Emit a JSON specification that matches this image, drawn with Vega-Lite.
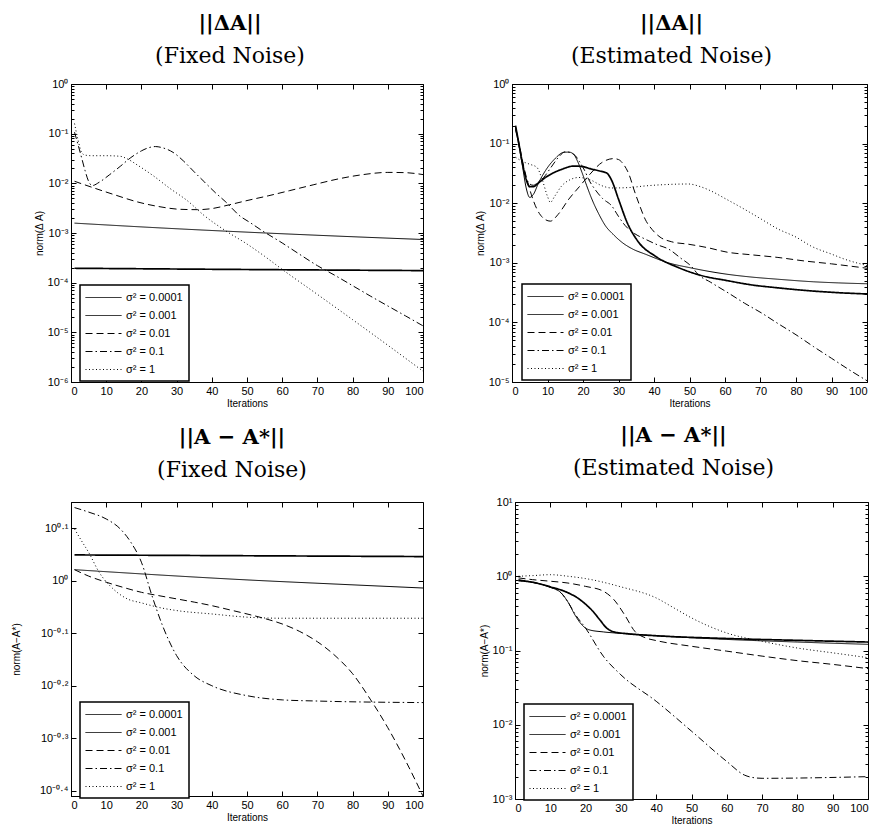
{
  "$schema": "https://vega.github.io/schema/vega-lite/v6.json",
  "padding": {"left": 10, "top": 12, "right": 5, "bottom": 5},
  "background": "white",
  "resolve": {"legend": {"strokeDash": "independent"}},
  "config": {
    "view": {"stroke": "black", "strokeWidth": 1},
    "font": "Liberation Sans",
    "title": {"font": "DejaVu Serif", "fontSize": 21, "fontWeight": "bold", "color": "black", "subtitleFont": "DejaVu Serif", "subtitleFontSize": 22, "subtitleColor": "black", "subtitlePadding": 12, "offset": 11},
    "axis": {"domainColor": "black", "tickColor": "black", "labelColor": "black", "labelFont": "Liberation Sans", "labelFontSize": 11, "titleFont": "Liberation Sans", "titleFontSize": 10, "titleFontWeight": "normal", "titleColor": "black", "grid": false, "tickSize": -5, "labelPadding": 8, "titlePadding": 3},
    "legend": {"orient": "none", "padding": 6, "strokeColor": "black", "fillColor": "white", "labelFont": "Liberation Sans", "labelFontSize": 11, "labelColor": "black", "symbolType": "M-3,0H3", "symbolSize": 144, "symbolStrokeWidth": 1, "symbolStrokeColor": "black", "symbolOffset": 11, "labelOffset": 16, "rowPadding": 6}
  },
  "datasets": {
    "p1": [
      {"s": "σ² = 0.0001", "x": 1, "y": 0.000195}, {"s": "σ² = 0.0001", "x": 50, "y": 0.000184}, {"s": "σ² = 0.0001", "x": 100, "y": 0.000175},
      {"s": "σ² = 0.001", "x": 1, "y": 0.00158}, {"s": "σ² = 0.001", "x": 25, "y": 0.00127}, {"s": "σ² = 0.001", "x": 50, "y": 0.00104}, {"s": "σ² = 0.001", "x": 75, "y": 0.00087}, {"s": "σ² = 0.001", "x": 100, "y": 0.00074},
      {"s": "σ² = 0.01", "x": 1, "y": 0.011}, {"s": "σ² = 0.01", "x": 6, "y": 0.0083}, {"s": "σ² = 0.01", "x": 12, "y": 0.006}, {"s": "σ² = 0.01", "x": 19, "y": 0.0042}, {"s": "σ² = 0.01", "x": 25, "y": 0.0034}, {"s": "σ² = 0.01", "x": 31, "y": 0.003}, {"s": "σ² = 0.01", "x": 36, "y": 0.00295}, {"s": "σ² = 0.01", "x": 40, "y": 0.0031}, {"s": "σ² = 0.01", "x": 45, "y": 0.0037}, {"s": "σ² = 0.01", "x": 50, "y": 0.0045}, {"s": "σ² = 0.01", "x": 56, "y": 0.0056}, {"s": "σ² = 0.01", "x": 62, "y": 0.0071}, {"s": "σ² = 0.01", "x": 69, "y": 0.0094}, {"s": "σ² = 0.01", "x": 76, "y": 0.0123}, {"s": "σ² = 0.01", "x": 83, "y": 0.015}, {"s": "σ² = 0.01", "x": 90, "y": 0.0166}, {"s": "σ² = 0.01", "x": 95, "y": 0.0164}, {"s": "σ² = 0.01", "x": 100, "y": 0.015},
      {"s": "σ² = 0.1", "x": 1, "y": 0.107}, {"s": "σ² = 0.1", "x": 2, "y": 0.06}, {"s": "σ² = 0.1", "x": 3, "y": 0.033}, {"s": "σ² = 0.1", "x": 4, "y": 0.018}, {"s": "σ² = 0.1", "x": 5, "y": 0.011}, {"s": "σ² = 0.1", "x": 6, "y": 0.009}, {"s": "σ² = 0.1", "x": 8, "y": 0.0105}, {"s": "σ² = 0.1", "x": 11, "y": 0.015}, {"s": "σ² = 0.1", "x": 14, "y": 0.022}, {"s": "σ² = 0.1", "x": 17, "y": 0.033}, {"s": "σ² = 0.1", "x": 20, "y": 0.045}, {"s": "σ² = 0.1", "x": 22, "y": 0.052}, {"s": "σ² = 0.1", "x": 24, "y": 0.055}, {"s": "σ² = 0.1", "x": 26, "y": 0.052}, {"s": "σ² = 0.1", "x": 29, "y": 0.042}, {"s": "σ² = 0.1", "x": 32, "y": 0.028}, {"s": "σ² = 0.1", "x": 35, "y": 0.017}, {"s": "σ² = 0.1", "x": 38, "y": 0.0105}, {"s": "σ² = 0.1", "x": 41, "y": 0.0065}, {"s": "σ² = 0.1", "x": 44, "y": 0.0042}, {"s": "σ² = 0.1", "x": 48, "y": 0.0022}, {"s": "σ² = 0.1", "x": 51, "y": 0.0016}, {"s": "σ² = 0.1", "x": 54, "y": 0.00115}, {"s": "σ² = 0.1", "x": 60, "y": 0.00063}, {"s": "σ² = 0.1", "x": 65, "y": 0.00037}, {"s": "σ² = 0.1", "x": 70, "y": 0.00022}, {"s": "σ² = 0.1", "x": 75, "y": 0.00014}, {"s": "σ² = 0.1", "x": 80, "y": 0.000087}, {"s": "σ² = 0.1", "x": 85, "y": 0.000054}, {"s": "σ² = 0.1", "x": 90, "y": 0.000034}, {"s": "σ² = 0.1", "x": 95, "y": 0.0000215}, {"s": "σ² = 0.1", "x": 100, "y": 0.0000135},
      {"s": "σ² = 1", "x": 1, "y": 0.16}, {"s": "σ² = 1", "x": 2, "y": 0.075}, {"s": "σ² = 1", "x": 3, "y": 0.042}, {"s": "σ² = 1", "x": 4, "y": 0.037}, {"s": "σ² = 1", "x": 6, "y": 0.036}, {"s": "σ² = 1", "x": 10, "y": 0.036}, {"s": "σ² = 1", "x": 14, "y": 0.035}, {"s": "σ² = 1", "x": 16, "y": 0.031}, {"s": "σ² = 1", "x": 19, "y": 0.023}, {"s": "σ² = 1", "x": 23.5, "y": 0.014}, {"s": "σ² = 1", "x": 28, "y": 0.008}, {"s": "σ² = 1", "x": 33, "y": 0.0045}, {"s": "σ² = 1", "x": 38, "y": 0.0022}, {"s": "σ² = 1", "x": 44, "y": 0.0011}, {"s": "σ² = 1", "x": 50, "y": 0.0006}, {"s": "σ² = 1", "x": 55, "y": 0.00034}, {"s": "σ² = 1", "x": 60, "y": 0.000185}, {"s": "σ² = 1", "x": 70, "y": 0.000058}, {"s": "σ² = 1", "x": 80, "y": 0.000018}, {"s": "σ² = 1", "x": 90, "y": 0.0000055}, {"s": "σ² = 1", "x": 100, "y": 0.00000165}
    ],
    "p2": [
      {"s": "σ² = 0.0001", "x": 1, "y": 0.2}, {"s": "σ² = 0.0001", "x": 2, "y": 0.095}, {"s": "σ² = 0.0001", "x": 3, "y": 0.045}, {"s": "σ² = 0.0001", "x": 4, "y": 0.025}, {"s": "σ² = 0.0001", "x": 5, "y": 0.019}, {"s": "σ² = 0.0001", "x": 6, "y": 0.019}, {"s": "σ² = 0.0001", "x": 7.5, "y": 0.022}, {"s": "σ² = 0.0001", "x": 9.4, "y": 0.027}, {"s": "σ² = 0.0001", "x": 12, "y": 0.033}, {"s": "σ² = 0.0001", "x": 14, "y": 0.037}, {"s": "σ² = 0.0001", "x": 17.4, "y": 0.042}, {"s": "σ² = 0.0001", "x": 20, "y": 0.041}, {"s": "σ² = 0.0001", "x": 22, "y": 0.038}, {"s": "σ² = 0.0001", "x": 24.4, "y": 0.035}, {"s": "σ² = 0.0001", "x": 26.7, "y": 0.032}, {"s": "σ² = 0.0001", "x": 28.1, "y": 0.024}, {"s": "σ² = 0.0001", "x": 30, "y": 0.0117}, {"s": "σ² = 0.0001", "x": 32.4, "y": 0.0048}, {"s": "σ² = 0.0001", "x": 35.7, "y": 0.0022}, {"s": "σ² = 0.0001", "x": 40.3, "y": 0.0013}, {"s": "σ² = 0.0001", "x": 46.9, "y": 0.00083}, {"s": "σ² = 0.0001", "x": 53, "y": 0.00062}, {"s": "σ² = 0.0001", "x": 60.8, "y": 0.0005}, {"s": "σ² = 0.0001", "x": 67, "y": 0.00043}, {"s": "σ² = 0.0001", "x": 74.9, "y": 0.00038}, {"s": "σ² = 0.0001", "x": 85, "y": 0.000335}, {"s": "σ² = 0.0001", "x": 92, "y": 0.000315}, {"s": "σ² = 0.0001", "x": 100, "y": 0.0003},
      {"s": "σ² = 0.001", "x": 1, "y": 0.17}, {"s": "σ² = 0.001", "x": 2, "y": 0.09}, {"s": "σ² = 0.001", "x": 3, "y": 0.04}, {"s": "σ² = 0.001", "x": 4, "y": 0.018}, {"s": "σ² = 0.001", "x": 5, "y": 0.0125}, {"s": "σ² = 0.001", "x": 6, "y": 0.014}, {"s": "σ² = 0.001", "x": 7.5, "y": 0.022}, {"s": "σ² = 0.001", "x": 9.4, "y": 0.035}, {"s": "σ² = 0.001", "x": 12, "y": 0.055}, {"s": "σ² = 0.001", "x": 14.5, "y": 0.071}, {"s": "σ² = 0.001", "x": 16, "y": 0.072}, {"s": "σ² = 0.001", "x": 17.4, "y": 0.066}, {"s": "σ² = 0.001", "x": 18.5, "y": 0.05}, {"s": "σ² = 0.001", "x": 19.7, "y": 0.033}, {"s": "σ² = 0.001", "x": 21, "y": 0.02}, {"s": "σ² = 0.001", "x": 22.5, "y": 0.0117}, {"s": "σ² = 0.001", "x": 24.5, "y": 0.0065}, {"s": "σ² = 0.001", "x": 26.3, "y": 0.0042}, {"s": "σ² = 0.001", "x": 28.5, "y": 0.003}, {"s": "σ² = 0.001", "x": 31, "y": 0.0022}, {"s": "σ² = 0.001", "x": 34, "y": 0.0017}, {"s": "σ² = 0.001", "x": 37.5, "y": 0.0014}, {"s": "σ² = 0.001", "x": 44, "y": 0.001}, {"s": "σ² = 0.001", "x": 50, "y": 0.00083}, {"s": "σ² = 0.001", "x": 60.8, "y": 0.00064}, {"s": "σ² = 0.001", "x": 67, "y": 0.00058}, {"s": "σ² = 0.001", "x": 74.9, "y": 0.00053}, {"s": "σ² = 0.001", "x": 85, "y": 0.00048}, {"s": "σ² = 0.001", "x": 92, "y": 0.00046}, {"s": "σ² = 0.001", "x": 100, "y": 0.000445},
      {"s": "σ² = 0.01", "x": 1, "y": 0.19}, {"s": "σ² = 0.01", "x": 2, "y": 0.1}, {"s": "σ² = 0.01", "x": 3, "y": 0.05}, {"s": "σ² = 0.01", "x": 4, "y": 0.028}, {"s": "σ² = 0.01", "x": 5, "y": 0.017}, {"s": "σ² = 0.01", "x": 7, "y": 0.008}, {"s": "σ² = 0.01", "x": 9, "y": 0.0055}, {"s": "σ² = 0.01", "x": 10.8, "y": 0.005}, {"s": "σ² = 0.01", "x": 13, "y": 0.0065}, {"s": "σ² = 0.01", "x": 16, "y": 0.0117}, {"s": "σ² = 0.01", "x": 19, "y": 0.019}, {"s": "σ² = 0.01", "x": 21.6, "y": 0.029}, {"s": "σ² = 0.01", "x": 25.3, "y": 0.048}, {"s": "σ² = 0.01", "x": 28.6, "y": 0.056}, {"s": "σ² = 0.01", "x": 30, "y": 0.054}, {"s": "σ² = 0.01", "x": 31.4, "y": 0.045}, {"s": "σ² = 0.01", "x": 33, "y": 0.03}, {"s": "σ² = 0.01", "x": 34.3, "y": 0.0173}, {"s": "σ² = 0.01", "x": 36, "y": 0.009}, {"s": "σ² = 0.01", "x": 37.5, "y": 0.0054}, {"s": "σ² = 0.01", "x": 39.5, "y": 0.0036}, {"s": "σ² = 0.01", "x": 41.7, "y": 0.0027}, {"s": "σ² = 0.01", "x": 45, "y": 0.00225}, {"s": "σ² = 0.01", "x": 49.7, "y": 0.00205}, {"s": "σ² = 0.01", "x": 55, "y": 0.0018}, {"s": "σ² = 0.01", "x": 60.8, "y": 0.0015}, {"s": "σ² = 0.01", "x": 67, "y": 0.00137}, {"s": "σ² = 0.01", "x": 74.9, "y": 0.00123}, {"s": "σ² = 0.01", "x": 82, "y": 0.00108}, {"s": "σ² = 0.01", "x": 90, "y": 0.00096}, {"s": "σ² = 0.01", "x": 100, "y": 0.00081},
      {"s": "σ² = 0.1", "x": 1, "y": 0.18}, {"s": "σ² = 0.1", "x": 2, "y": 0.09}, {"s": "σ² = 0.1", "x": 3, "y": 0.045}, {"s": "σ² = 0.1", "x": 4, "y": 0.027}, {"s": "σ² = 0.1", "x": 5, "y": 0.021}, {"s": "σ² = 0.1", "x": 6, "y": 0.02}, {"s": "σ² = 0.1", "x": 7.5, "y": 0.023}, {"s": "σ² = 0.1", "x": 8.9, "y": 0.027}, {"s": "σ² = 0.1", "x": 11, "y": 0.04}, {"s": "σ² = 0.1", "x": 13, "y": 0.058}, {"s": "σ² = 0.1", "x": 15, "y": 0.073}, {"s": "σ² = 0.1", "x": 16.5, "y": 0.07}, {"s": "σ² = 0.1", "x": 17.8, "y": 0.063}, {"s": "σ² = 0.1", "x": 19, "y": 0.05}, {"s": "σ² = 0.1", "x": 20.5, "y": 0.035}, {"s": "σ² = 0.1", "x": 21.6, "y": 0.025}, {"s": "σ² = 0.1", "x": 23.4, "y": 0.017}, {"s": "σ² = 0.1", "x": 25.5, "y": 0.012}, {"s": "σ² = 0.1", "x": 28.1, "y": 0.009}, {"s": "σ² = 0.1", "x": 30, "y": 0.006}, {"s": "σ² = 0.1", "x": 31.9, "y": 0.0042}, {"s": "σ² = 0.1", "x": 34.5, "y": 0.0031}, {"s": "σ² = 0.1", "x": 37.5, "y": 0.0025}, {"s": "σ² = 0.1", "x": 41, "y": 0.002}, {"s": "σ² = 0.1", "x": 44.1, "y": 0.0017}, {"s": "σ² = 0.1", "x": 47.5, "y": 0.0012}, {"s": "σ² = 0.1", "x": 50.7, "y": 0.00085}, {"s": "σ² = 0.1", "x": 52.3, "y": 0.00065}, {"s": "σ² = 0.1", "x": 56, "y": 0.00047}, {"s": "σ² = 0.1", "x": 61, "y": 0.00031}, {"s": "σ² = 0.1", "x": 65.5, "y": 0.00021}, {"s": "σ² = 0.1", "x": 70.2, "y": 0.000145}, {"s": "σ² = 0.1", "x": 75, "y": 0.000095}, {"s": "σ² = 0.1", "x": 80, "y": 0.000062}, {"s": "σ² = 0.1", "x": 85, "y": 0.000039}, {"s": "σ² = 0.1", "x": 90, "y": 0.000025}, {"s": "σ² = 0.1", "x": 95, "y": 0.000016}, {"s": "σ² = 0.1", "x": 100, "y": 0.0000105},
      {"s": "σ² = 1", "x": 1, "y": 0.059}, {"s": "σ² = 1", "x": 3, "y": 0.05}, {"s": "σ² = 1", "x": 5, "y": 0.045}, {"s": "σ² = 1", "x": 7, "y": 0.04}, {"s": "σ² = 1", "x": 8.5, "y": 0.025}, {"s": "σ² = 1", "x": 10, "y": 0.013}, {"s": "σ² = 1", "x": 10.8, "y": 0.0103}, {"s": "σ² = 1", "x": 12, "y": 0.013}, {"s": "σ² = 1", "x": 14, "y": 0.0195}, {"s": "σ² = 1", "x": 16.5, "y": 0.025}, {"s": "σ² = 1", "x": 18.8, "y": 0.027}, {"s": "σ² = 1", "x": 22.5, "y": 0.024}, {"s": "σ² = 1", "x": 25, "y": 0.02}, {"s": "σ² = 1", "x": 28.1, "y": 0.018}, {"s": "σ² = 1", "x": 33, "y": 0.0183}, {"s": "σ² = 1", "x": 37.5, "y": 0.0195}, {"s": "σ² = 1", "x": 43, "y": 0.0205}, {"s": "σ² = 1", "x": 49.7, "y": 0.021}, {"s": "σ² = 1", "x": 53, "y": 0.019}, {"s": "σ² = 1", "x": 56.1, "y": 0.016}, {"s": "σ² = 1", "x": 60, "y": 0.012}, {"s": "σ² = 1", "x": 65.5, "y": 0.0079}, {"s": "σ² = 1", "x": 70, "y": 0.0055}, {"s": "σ² = 1", "x": 74.9, "y": 0.0037}, {"s": "σ² = 1", "x": 80, "y": 0.0027}, {"s": "σ² = 1", "x": 84.3, "y": 0.0019}, {"s": "σ² = 1", "x": 90, "y": 0.0014}, {"s": "σ² = 1", "x": 93.7, "y": 0.00115}, {"s": "σ² = 1", "x": 100, "y": 0.0009}
    ],
    "p3": [
      {"s": "σ² = 0.0001", "x": 1, "y": 1.119}, {"s": "σ² = 0.0001", "x": 50, "y": 1.115}, {"s": "σ² = 0.0001", "x": 100, "y": 1.111},
      {"s": "σ² = 0.001", "x": 1, "y": 1.049}, {"s": "σ² = 0.001", "x": 25, "y": 1.025}, {"s": "σ² = 0.001", "x": 50, "y": 1.003}, {"s": "σ² = 0.001", "x": 75, "y": 0.985}, {"s": "σ² = 0.001", "x": 100, "y": 0.968},
      {"s": "σ² = 0.01", "x": 1, "y": 1.049}, {"s": "σ² = 0.01", "x": 5, "y": 1.02}, {"s": "σ² = 0.01", "x": 10, "y": 0.993}, {"s": "σ² = 0.01", "x": 15, "y": 0.97}, {"s": "σ² = 0.01", "x": 20, "y": 0.95}, {"s": "σ² = 0.01", "x": 25, "y": 0.936}, {"s": "σ² = 0.01", "x": 30, "y": 0.923}, {"s": "σ² = 0.01", "x": 35, "y": 0.91}, {"s": "σ² = 0.01", "x": 40, "y": 0.896}, {"s": "σ² = 0.01", "x": 45, "y": 0.88}, {"s": "σ² = 0.01", "x": 50, "y": 0.864}, {"s": "σ² = 0.01", "x": 55, "y": 0.847}, {"s": "σ² = 0.01", "x": 60, "y": 0.827}, {"s": "σ² = 0.01", "x": 65, "y": 0.8}, {"s": "σ² = 0.01", "x": 70, "y": 0.765}, {"s": "σ² = 0.01", "x": 75, "y": 0.72}, {"s": "σ² = 0.01", "x": 80, "y": 0.665}, {"s": "σ² = 0.01", "x": 85, "y": 0.595}, {"s": "σ² = 0.01", "x": 90, "y": 0.525}, {"s": "σ² = 0.01", "x": 95, "y": 0.455}, {"s": "σ² = 0.01", "x": 100, "y": 0.389},
      {"s": "σ² = 0.1", "x": 1, "y": 1.377}, {"s": "σ² = 0.1", "x": 5, "y": 1.35}, {"s": "σ² = 0.1", "x": 10, "y": 1.31}, {"s": "σ² = 0.1", "x": 14, "y": 1.254}, {"s": "σ² = 0.1", "x": 17, "y": 1.183}, {"s": "σ² = 0.1", "x": 20, "y": 1.084}, {"s": "σ² = 0.1", "x": 23, "y": 0.936}, {"s": "σ² = 0.1", "x": 26, "y": 0.821}, {"s": "σ² = 0.1", "x": 30, "y": 0.72}, {"s": "σ² = 0.1", "x": 35, "y": 0.659}, {"s": "σ² = 0.1", "x": 40, "y": 0.631}, {"s": "σ² = 0.1", "x": 50, "y": 0.604}, {"s": "σ² = 0.1", "x": 60, "y": 0.593}, {"s": "σ² = 0.1", "x": 70, "y": 0.59}, {"s": "σ² = 0.1", "x": 100, "y": 0.586},
      {"s": "σ² = 1", "x": 1, "y": 1.254}, {"s": "σ² = 1", "x": 3, "y": 1.19}, {"s": "σ² = 1", "x": 5, "y": 1.132}, {"s": "σ² = 1", "x": 8, "y": 1.037}, {"s": "σ² = 1", "x": 12, "y": 0.964}, {"s": "σ² = 1", "x": 16, "y": 0.923}, {"s": "σ² = 1", "x": 20, "y": 0.907}, {"s": "σ² = 1", "x": 25, "y": 0.889}, {"s": "σ² = 1", "x": 30, "y": 0.877}, {"s": "σ² = 1", "x": 40, "y": 0.864}, {"s": "σ² = 1", "x": 50, "y": 0.852}, {"s": "σ² = 1", "x": 60, "y": 0.848}, {"s": "σ² = 1", "x": 100, "y": 0.848}
    ],
    "p4": [
      {"s": "σ² = 0.0001", "x": 1, "y": 0.875}, {"s": "σ² = 0.0001", "x": 5, "y": 0.83}, {"s": "σ² = 0.0001", "x": 10, "y": 0.72}, {"s": "σ² = 0.0001", "x": 15, "y": 0.6}, {"s": "σ² = 0.0001", "x": 18, "y": 0.5}, {"s": "σ² = 0.0001", "x": 20, "y": 0.42}, {"s": "σ² = 0.0001", "x": 22, "y": 0.34}, {"s": "σ² = 0.0001", "x": 24, "y": 0.26}, {"s": "σ² = 0.0001", "x": 26, "y": 0.2}, {"s": "σ² = 0.0001", "x": 28, "y": 0.178}, {"s": "σ² = 0.0001", "x": 32, "y": 0.168}, {"s": "σ² = 0.0001", "x": 40, "y": 0.158}, {"s": "σ² = 0.0001", "x": 60, "y": 0.145}, {"s": "σ² = 0.0001", "x": 80, "y": 0.137}, {"s": "σ² = 0.0001", "x": 100, "y": 0.13},
      {"s": "σ² = 0.001", "x": 1, "y": 0.875}, {"s": "σ² = 0.001", "x": 5, "y": 0.83}, {"s": "σ² = 0.001", "x": 10, "y": 0.71}, {"s": "σ² = 0.001", "x": 13, "y": 0.6}, {"s": "σ² = 0.001", "x": 15, "y": 0.45}, {"s": "σ² = 0.001", "x": 17, "y": 0.3}, {"s": "σ² = 0.001", "x": 19, "y": 0.22}, {"s": "σ² = 0.001", "x": 21, "y": 0.19}, {"s": "σ² = 0.001", "x": 25, "y": 0.178}, {"s": "σ² = 0.001", "x": 30, "y": 0.17}, {"s": "σ² = 0.001", "x": 40, "y": 0.158}, {"s": "σ² = 0.001", "x": 60, "y": 0.141}, {"s": "σ² = 0.001", "x": 80, "y": 0.13}, {"s": "σ² = 0.001", "x": 100, "y": 0.121},
      {"s": "σ² = 0.01", "x": 1, "y": 0.95}, {"s": "σ² = 0.01", "x": 5, "y": 0.9}, {"s": "σ² = 0.01", "x": 10, "y": 0.857}, {"s": "σ² = 0.01", "x": 15, "y": 0.81}, {"s": "σ² = 0.01", "x": 20, "y": 0.73}, {"s": "σ² = 0.01", "x": 25, "y": 0.63}, {"s": "σ² = 0.01", "x": 28, "y": 0.485}, {"s": "σ² = 0.01", "x": 31, "y": 0.305}, {"s": "σ² = 0.01", "x": 34, "y": 0.18}, {"s": "σ² = 0.01", "x": 37, "y": 0.148}, {"s": "σ² = 0.01", "x": 40, "y": 0.136}, {"s": "σ² = 0.01", "x": 50, "y": 0.114}, {"s": "σ² = 0.01", "x": 60, "y": 0.098}, {"s": "σ² = 0.01", "x": 70, "y": 0.084}, {"s": "σ² = 0.01", "x": 80, "y": 0.073}, {"s": "σ² = 0.01", "x": 90, "y": 0.065}, {"s": "σ² = 0.01", "x": 100, "y": 0.057},
      {"s": "σ² = 0.1", "x": 1, "y": 0.9}, {"s": "σ² = 0.1", "x": 5, "y": 0.83}, {"s": "σ² = 0.1", "x": 10, "y": 0.71}, {"s": "σ² = 0.1", "x": 13, "y": 0.6}, {"s": "σ² = 0.1", "x": 15, "y": 0.45}, {"s": "σ² = 0.1", "x": 17, "y": 0.31}, {"s": "σ² = 0.1", "x": 20, "y": 0.2}, {"s": "σ² = 0.1", "x": 25, "y": 0.084}, {"s": "σ² = 0.1", "x": 30, "y": 0.047}, {"s": "σ² = 0.1", "x": 40, "y": 0.0207}, {"s": "σ² = 0.1", "x": 50, "y": 0.0082}, {"s": "σ² = 0.1", "x": 60, "y": 0.0032}, {"s": "σ² = 0.1", "x": 65, "y": 0.0021}, {"s": "σ² = 0.1", "x": 67, "y": 0.00196}, {"s": "σ² = 0.1", "x": 70, "y": 0.0019}, {"s": "σ² = 0.1", "x": 100, "y": 0.002},
      {"s": "σ² = 1", "x": 1, "y": 1.0}, {"s": "σ² = 1", "x": 5, "y": 1.02}, {"s": "σ² = 1", "x": 10, "y": 1.05}, {"s": "σ² = 1", "x": 15, "y": 1.0}, {"s": "σ² = 1", "x": 20, "y": 0.93}, {"s": "σ² = 1", "x": 30, "y": 0.72}, {"s": "σ² = 1", "x": 40, "y": 0.51}, {"s": "σ² = 1", "x": 45, "y": 0.375}, {"s": "σ² = 1", "x": 50, "y": 0.275}, {"s": "σ² = 1", "x": 55, "y": 0.212}, {"s": "σ² = 1", "x": 60, "y": 0.172}, {"s": "σ² = 1", "x": 70, "y": 0.133}, {"s": "σ² = 1", "x": 80, "y": 0.108}, {"s": "σ² = 1", "x": 90, "y": 0.093}, {"s": "σ² = 1", "x": 100, "y": 0.08}
    ]
  },
  "spacing": 15,
  "vconcat": [
    {
      "spacing": 47,
      "resolve": {"legend": {"strokeDash": "independent"}},
      "hconcat": [
        {
          "width": 352, "height": 298,
          "title": {"text": "||ΔA||", "subtitle": "(Fixed Noise)", "dx": -17},
          "data": {"name": "p1"},
          "resolve": {"axis": {"x": "independent", "y": "independent"}},
          "layer": [
            {
              "mark": {"type": "line", "color": "black", "clip": true, "interpolate": "monotone"},
              "encoding": {
                "x": {"field": "x", "type": "quantitative", "scale": {"domain": [0, 100], "nice": false}, "axis": {"orient": "bottom", "values": [0,10,20,30,40,50,60,70,80,90,100], "title": "Iterations", "titlePadding": 2}},
                "y": {"field": "y", "type": "quantitative", "scale": {"type": "log", "domain": [0.000001, 1], "nice": false}, "axis": {"orient": "left", "title": "norm(Δ A)", "values": [0.000001,0.000002,0.000003,0.000004,0.000005,0.000006,0.000007,0.000008,0.000009,0.00001,0.00002,0.00003,0.00004,0.00005,0.00006,0.00007,0.00008,0.00009,0.0001,0.0002,0.0003,0.0004,0.0005,0.0006,0.0007,0.0008,0.0009,0.001,0.002,0.003,0.004,0.005,0.006,0.007,0.008,0.009,0.01,0.02,0.03,0.04,0.05,0.06,0.07,0.08,0.09,0.1,0.2,0.3,0.4,0.5,0.6,0.7,0.8,0.9,1], "labelExpr": "abs(log(datum.value)/LN10 - round(log(datum.value)/LN10)) < 0.01 ? '10' + (round(log(datum.value)/LN10) < 0 ? '⁻' : '') + ['⁰','¹','²','³','⁴','⁵','⁶'][abs(round(log(datum.value)/LN10))] : ''", "tickSize": {"condition": {"test": "abs(log(datum.value)/LN10 - round(log(datum.value)/LN10)) < 0.01", "value": -5}, "value": -3}}},
                "strokeDash": {"field": "s", "type": "nominal", "scale": {"domain": ["σ² = 0.0001", "σ² = 0.001", "σ² = 0.01", "σ² = 0.1", "σ² = 1"], "range": [[1, 0], [1, 0], [7, 4], [7, 3, 1.5, 3], [1, 2.5]]}, "legend": {"title": null, "legendX": 9, "legendY": 201, "encode": {"legend": {"update": {"strokeWidth": {"value": 1.5}}}}}},
                "strokeWidth": {"condition": {"test": "datum.s === 'σ² = 0.0001'", "value": 1.7}, "value": 1}
              }
            },
            {
              "mark": {"type": "point", "opacity": 0},
              "encoding": {
                "x": {"field": "x", "type": "quantitative", "scale": {"domain": [0, 100], "nice": false}, "axis": {"orient": "top", "values": [0,10,20,30,40,50,60,70,80,90,100], "labels": false, "title": null, "domain": false}},
                "y": {"field": "y", "type": "quantitative", "scale": {"type": "log", "domain": [0.000001, 1], "nice": false}, "axis": {"orient": "right", "labels": false, "title": null, "domain": false, "values": [0.000001,0.000002,0.000003,0.000004,0.000005,0.000006,0.000007,0.000008,0.000009,0.00001,0.00002,0.00003,0.00004,0.00005,0.00006,0.00007,0.00008,0.00009,0.0001,0.0002,0.0003,0.0004,0.0005,0.0006,0.0007,0.0008,0.0009,0.001,0.002,0.003,0.004,0.005,0.006,0.007,0.008,0.009,0.01,0.02,0.03,0.04,0.05,0.06,0.07,0.08,0.09,0.1,0.2,0.3,0.4,0.5,0.6,0.7,0.8,0.9,1], "tickSize": {"condition": {"test": "abs(log(datum.value)/LN10 - round(log(datum.value)/LN10)) < 0.01", "value": -5}, "value": -3}}}
              }
            }
          ]
        },
        {
          "width": 355, "height": 298,
          "title": {"text": "||ΔA||", "subtitle": "(Estimated Noise)", "dx": -18},
          "data": {"name": "p2"},
          "resolve": {"axis": {"x": "independent", "y": "independent"}},
          "layer": [
            {
              "mark": {"type": "line", "color": "black", "clip": true, "interpolate": "monotone"},
              "encoding": {
                "x": {"field": "x", "type": "quantitative", "scale": {"domain": [0, 100], "nice": false}, "axis": {"orient": "bottom", "values": [0,10,20,30,40,50,60,70,80,90,100], "title": "Iterations", "titlePadding": 2}},
                "y": {"field": "y", "type": "quantitative", "scale": {"type": "log", "domain": [0.00001, 1], "nice": false}, "axis": {"orient": "left", "title": "norm(Δ A)", "values": [0.00001,0.00002,0.00003,0.00004,0.00005,0.00006,0.00007,0.00008,0.00009,0.0001,0.0002,0.0003,0.0004,0.0005,0.0006,0.0007,0.0008,0.0009,0.001,0.002,0.003,0.004,0.005,0.006,0.007,0.008,0.009,0.01,0.02,0.03,0.04,0.05,0.06,0.07,0.08,0.09,0.1,0.2,0.3,0.4,0.5,0.6,0.7,0.8,0.9,1], "labelExpr": "abs(log(datum.value)/LN10 - round(log(datum.value)/LN10)) < 0.01 ? '10' + (round(log(datum.value)/LN10) < 0 ? '⁻' : '') + ['⁰','¹','²','³','⁴','⁵','⁶'][abs(round(log(datum.value)/LN10))] : ''", "tickSize": {"condition": {"test": "abs(log(datum.value)/LN10 - round(log(datum.value)/LN10)) < 0.01", "value": -5}, "value": -3}}},
                "strokeDash": {"field": "s", "type": "nominal", "scale": {"domain": ["σ² = 0.0001", "σ² = 0.001", "σ² = 0.01", "σ² = 0.1", "σ² = 1"], "range": [[1, 0], [1, 0], [7, 4], [7, 3, 1.5, 3], [1, 2.5]]}, "legend": {"title": null, "legendX": 10, "legendY": 200, "encode": {"legend": {"update": {"strokeWidth": {"value": 1.5}}}}}},
                "strokeWidth": {"condition": {"test": "datum.s === 'σ² = 0.0001'", "value": 1.7}, "value": 1}
              }
            },
            {
              "mark": {"type": "point", "opacity": 0},
              "encoding": {
                "x": {"field": "x", "type": "quantitative", "scale": {"domain": [0, 100], "nice": false}, "axis": {"orient": "top", "values": [0,10,20,30,40,50,60,70,80,90,100], "labels": false, "title": null, "domain": false}},
                "y": {"field": "y", "type": "quantitative", "scale": {"type": "log", "domain": [0.00001, 1], "nice": false}, "axis": {"orient": "right", "labels": false, "title": null, "domain": false, "values": [0.00001,0.00002,0.00003,0.00004,0.00005,0.00006,0.00007,0.00008,0.00009,0.0001,0.0002,0.0003,0.0004,0.0005,0.0006,0.0007,0.0008,0.0009,0.001,0.002,0.003,0.004,0.005,0.006,0.007,0.008,0.009,0.01,0.02,0.03,0.04,0.05,0.06,0.07,0.08,0.09,0.1,0.2,0.3,0.4,0.5,0.6,0.7,0.8,0.9,1], "tickSize": {"condition": {"test": "abs(log(datum.value)/LN10 - round(log(datum.value)/LN10)) < 0.01", "value": -5}, "value": -3}}}
              }
            }
          ]
        }
      ]
    },
    {
      "spacing": 51,
      "resolve": {"legend": {"strokeDash": "independent"}},
      "hconcat": [
        {
          "width": 352, "height": 294,
          "title": {"text": "||A − A*||", "subtitle": "(Fixed Noise)", "dx": -15, "offset": 21},
          "data": {"name": "p3"},
          "resolve": {"axis": {"x": "independent", "y": "independent"}},
          "layer": [
            {
              "mark": {"type": "line", "color": "black", "clip": true, "interpolate": "monotone"},
              "encoding": {
                "x": {"field": "x", "type": "quantitative", "scale": {"domain": [0, 100], "nice": false}, "axis": {"orient": "bottom", "values": [0,10,20,30,40,50,60,70,80,90,100], "title": "Iterations", "titlePadding": 2}},
                "y": {"field": "y", "type": "quantitative", "scale": {"type": "log", "domain": [0.3892, 1.411], "nice": false}, "axis": {"orient": "left", "title": "norm(A−A*)", "titlePadding": 18, "values": [0.398107, 0.501187, 0.630957, 0.794328, 1, 1.258925], "labelExpr": "round(log(datum.value)/LN10*10) == 0 ? '10⁰' : '10' + (round(log(datum.value)/LN10*10) < 0 ? '⁻' : '') + '⁰·' + ['⁰','¹','²','³','⁴'][abs(round(log(datum.value)/LN10*10))]"}},
                "strokeDash": {"field": "s", "type": "nominal", "scale": {"domain": ["σ² = 0.0001", "σ² = 0.001", "σ² = 0.01", "σ² = 0.1", "σ² = 1"], "range": [[1, 0], [1, 0], [7, 4], [7, 3, 1.5, 3], [1, 2.5]]}, "legend": {"title": null, "legendX": 9, "legendY": 200, "encode": {"legend": {"update": {"strokeWidth": {"value": 1.5}}}}}},
                "strokeWidth": {"condition": {"test": "datum.s === 'σ² = 0.0001'", "value": 1.7}, "value": 1}
              }
            },
            {
              "mark": {"type": "point", "opacity": 0},
              "encoding": {
                "x": {"field": "x", "type": "quantitative", "scale": {"domain": [0, 100], "nice": false}, "axis": {"orient": "top", "values": [0,10,20,30,40,50,60,70,80,90,100], "labels": false, "title": null, "domain": false}},
                "y": {"field": "y", "type": "quantitative", "scale": {"type": "log", "domain": [0.3892, 1.411], "nice": false}, "axis": {"orient": "right", "labels": false, "title": null, "domain": false, "values": [0.398107, 0.501187, 0.630957, 0.794328, 1, 1.258925]}}
              }
            }
          ]
        },
        {
          "width": 353, "height": 297,
          "title": {"text": "||A − A*||", "subtitle": "(Estimated Noise)", "dx": -18, "offset": 17},
          "data": {"name": "p4"},
          "resolve": {"axis": {"x": "independent", "y": "independent"}},
          "layer": [
            {
              "mark": {"type": "line", "color": "black", "clip": true, "interpolate": "monotone"},
              "encoding": {
                "x": {"field": "x", "type": "quantitative", "scale": {"domain": [0, 100], "nice": false}, "axis": {"orient": "bottom", "values": [0,10,20,30,40,50,60,70,80,90,100], "title": "Iterations", "titlePadding": 2}},
                "y": {"field": "y", "type": "quantitative", "scale": {"type": "log", "domain": [0.001, 10], "nice": false}, "axis": {"orient": "left", "title": "norm(A−A*)", "values": [0.001,0.002,0.003,0.004,0.005,0.006,0.007,0.008,0.009,0.01,0.02,0.03,0.04,0.05,0.06,0.07,0.08,0.09,0.1,0.2,0.3,0.4,0.5,0.6,0.7,0.8,0.9,1,2,3,4,5,6,7,8,9,10], "labelExpr": "abs(log(datum.value)/LN10 - round(log(datum.value)/LN10)) < 0.01 ? '10' + (round(log(datum.value)/LN10) < 0 ? '⁻' : '') + ['⁰','¹','²','³','⁴','⁵','⁶'][abs(round(log(datum.value)/LN10))] : ''", "tickSize": {"condition": {"test": "abs(log(datum.value)/LN10 - round(log(datum.value)/LN10)) < 0.01", "value": -5}, "value": -3}}},
                "strokeDash": {"field": "s", "type": "nominal", "scale": {"domain": ["σ² = 0.0001", "σ² = 0.001", "σ² = 0.01", "σ² = 0.1", "σ² = 1"], "range": [[1, 0], [1, 0], [7, 4], [7, 3, 1.5, 3], [1, 2.5]]}, "legend": {"title": null, "legendX": 9, "legendY": 202, "encode": {"legend": {"update": {"strokeWidth": {"value": 1.5}}}}}},
                "strokeWidth": {"condition": {"test": "datum.s === 'σ² = 0.0001'", "value": 1.7}, "value": 1}
              }
            },
            {
              "mark": {"type": "point", "opacity": 0},
              "encoding": {
                "x": {"field": "x", "type": "quantitative", "scale": {"domain": [0, 100], "nice": false}, "axis": {"orient": "top", "values": [0,10,20,30,40,50,60,70,80,90,100], "labels": false, "title": null, "domain": false}},
                "y": {"field": "y", "type": "quantitative", "scale": {"type": "log", "domain": [0.001, 10], "nice": false}, "axis": {"orient": "right", "labels": false, "title": null, "domain": false, "values": [0.001,0.002,0.003,0.004,0.005,0.006,0.007,0.008,0.009,0.01,0.02,0.03,0.04,0.05,0.06,0.07,0.08,0.09,0.1,0.2,0.3,0.4,0.5,0.6,0.7,0.8,0.9,1,2,3,4,5,6,7,8,9,10], "tickSize": {"condition": {"test": "abs(log(datum.value)/LN10 - round(log(datum.value)/LN10)) < 0.01", "value": -5}, "value": -3}}}
              }
            }
          ]
        }
      ]
    }
  ]
}
